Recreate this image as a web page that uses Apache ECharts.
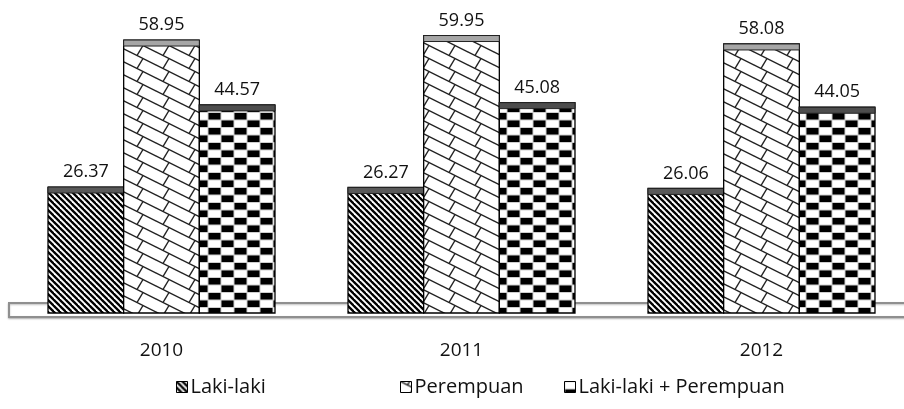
<!DOCTYPE html>
<html>
<head>
<meta charset="utf-8">
<script src="https://cdn.jsdelivr.net/npm/echarts@6/dist/echarts.min.js"></script>
<style>
html, body { margin: 0; padding: 0; background: #fff; }
#chart { width: 904px; height: 409px; }
</style>
</head>
<body>
<div id="chart"></div>
<script>
// data
const years = ['2010', '2011', '2012'];
const seriesNames = ['Laki-laki', 'Perempuan', 'Laki-laki + Perempuan'];
const lakiLaki = [26.37, 26.27, 26.06];
const perempuan = [58.95, 59.95, 58.08];
const gabungan = [44.57, 45.08, 44.05];

const FONT = '"Open Sans", sans-serif';

// little canvas tiles for the hatch fills
function makeTile(w, h, draw) {
    const c = document.createElement('canvas');
    c.width = w;
    c.height = h;
    const ctx = c.getContext('2d');
    ctx.fillStyle = '#fff';
    ctx.fillRect(0, 0, w, h);
    draw(ctx, w, h);
    return c;
}

// back-slash stripes
const stripeTile = makeTile(6, 6, (ctx, w, h) => {
    ctx.strokeStyle = '#000';
    ctx.lineWidth = 2.3;
    for (let k = -1; k <= 1; k++) {
        ctx.beginPath();
        ctx.moveTo(k * w - 1, -1);
        ctx.lineTo(k * w + w + 1, h + 1);
        ctx.stroke();
    }
});

// slanted brick / lattice
const brickTile = makeTile(26, 13, (ctx, w, h) => {
    ctx.strokeStyle = '#222';
    ctx.lineWidth = 1.4;
    for (let dx = -w; dx <= w; dx += w) {
        for (let dy = -h; dy <= h; dy += h) {
            ctx.beginPath();
            ctx.moveTo(dx, dy);
            ctx.lineTo(dx + w, dy + h);
            ctx.stroke();
            ctx.beginPath();
            ctx.moveTo(dx + 13, dy + 6.5);
            ctx.lineTo(dx + 7, dy + 16.5);
            ctx.stroke();
        }
    }
});

// checker blocks
const checkTile = makeTile(26, 15, (ctx, w, h) => {
    ctx.fillStyle = '#cfcfcf';
    ctx.fillRect(0, 0, w, h);
    ctx.fillStyle = '#fff';
    ctx.fillRect(0.5, 0.5, 12, 6.5);
    ctx.fillRect(13.5, 8, 12, 6.5);
    ctx.fillStyle = '#000';
    ctx.fillRect(13.5, 0.5, 12, 6.5);
    ctx.fillRect(0.5, 8, 12, 6.5);
});

const fills = [
    { image: stripeTile, repeat: 'repeat' },
    { image: brickTile, repeat: 'repeat' },
    { image: checkTile, repeat: 'repeat' }
];
const capColors = ['#595959', '#a6a6a6', '#4d4d4d'];
const valueSets = [lakiLaki, perempuan, gabungan];

function barRenderer(idx) {
    return function (params, api) {
        const cat = api.value(0);
        const v = api.value(1);
        const band = api.size([1, 0])[0];
        const bw = band * 0.2522;
        const topPt = api.coord([cat, v]);
        const base = api.coord([cat, 0])[1] + 7;
        const x = topPt[0] + (idx - 1.5) * bw;
        const top = topPt[1];
        return {
            type: 'group',
            children: [
                {
                    type: 'rect',
                    shape: { x: x, y: top, width: bw, height: base - top },
                    style: { fill: fills[idx], stroke: '#000', lineWidth: 1.3 }
                },
                {
                    type: 'rect',
                    shape: { x: x, y: top, width: bw, height: 6 },
                    style: { fill: capColors[idx], stroke: '#222', lineWidth: 1 }
                },
                {
                    type: 'text',
                    style: {
                        x: x + bw / 2,
                        y: top - 15,
                        text: v.toFixed(2),
                        align: 'center',
                        verticalAlign: 'middle',
                        font: '18px ' + FONT,
                        fill: '#111'
                    }
                }
            ]
        };
    };
}

const legendLefts = [171, 395, 559];

let chart = echarts.init(document.getElementById('chart'));
chart.setOption({
    animation: false,
    backgroundColor: '#fff',
    grid: {
        left: 11.5,
        width: 900,
        top: 35.3,
        bottom: 103,
        outerBoundsMode: 'none',
        containLabel: false
    },
    xAxis: {
        type: 'category',
        data: years,
        axisLine: { show: false },
        axisTick: { show: false },
        axisLabel: {
            margin: 35,
            fontSize: 19,
            fontFamily: FONT,
            color: '#111'
        }
    },
    yAxis: {
        type: 'value',
        min: 0,
        max: 60,
        show: false
    },
    legend: seriesNames.map((name, i) => ({
        left: legendLefts[i],
        top: 372,
        icon: 'rect',
        itemWidth: 11,
        itemHeight: 11,
        itemGap: 0,
        selectedMode: false,
        textStyle: {
            fontSize: 20,
            fontFamily: FONT,
            color: '#111',
            padding: [0, 0, 0, -2]
        },
        data: [{
            name: name,
            itemStyle: { color: fills[i], borderColor: '#000', borderWidth: 1 }
        }]
    })),
    graphic: [{
        type: 'rect',
        z: -10,
        shape: { x: 9, y: 303, width: 930, height: 14 },
        style: {
            fill: '#fff',
            stroke: '#8f8f8f',
            lineWidth: 2,
            shadowColor: 'rgba(0,0,0,0.25)',
            shadowBlur: 2,
            shadowOffsetY: 1
        }
    }],
    series: seriesNames.map((name, i) => ({
        type: 'custom',
        name: name,
        itemStyle: { color: fills[i] },
        renderItem: barRenderer(i),
        encode: { x: 0, y: 1 },
        data: years.map((y, j) => [j, valueSets[i][j]])
    }))
});
</script>
</body>
</html>
